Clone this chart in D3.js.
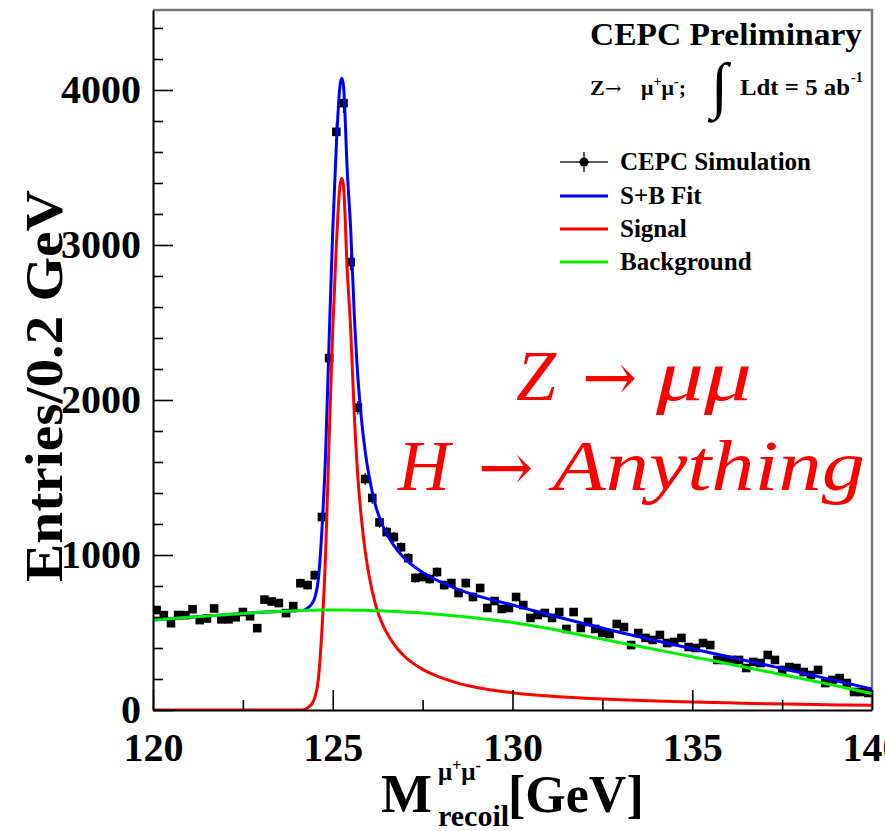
<!DOCTYPE html>
<html><head><meta charset="utf-8">
<script src="https://cdn.jsdelivr.net/npm/d3@7"></script>
<style>body{margin:0;background:#fff}svg{display:block}</style>
</head><body><svg id="c" width="885" height="831"></svg>
<script>
// ---- data ----
const binCenters = [120.1,120.3,120.5,120.7,120.9,121.1,121.3,121.5,121.7,121.9,
  122.1,122.3,122.5,122.7,122.9,123.1,123.3,123.5,123.7,123.9,
  124.1,124.3,124.5,124.7,124.9,125.1,125.3,125.5,125.7,125.9,
  126.1,126.3,126.5,126.7,126.9,127.1,127.3,127.5,127.7,127.9,
  128.1,128.3,128.5,128.7,128.9,129.1,129.3,129.5,129.7,129.9,
  130.1,130.3,130.5,130.7,130.9,131.1,131.3,131.5,131.7,131.9,
  132.1,132.3,132.5,132.7,132.9,133.1,133.3,133.5,133.7,133.9,
  134.1,134.3,134.5,134.7,134.9,135.1,135.3,135.5,135.7,135.9,
  136.1,136.3,136.5,136.7,136.9,137.1,137.3,137.5,137.7,137.9,
  138.1,138.3,138.5,138.7,138.9,139.1,139.3,139.5,139.7,139.9];
const counts = [645,612,560,613,612,650,580,590,655,585,
  585,598,632,605,528,712,700,690,625,670,
  818,806,870,1245,2270,3730,3915,2890,1950,1490,
  1368,1210,1148,1116,1050,980,852,858,845,890,
  806,819,755,819,729,787,658,703,652,658,
  729,677,594,613,626,594,632,523,632,529,
  568,523,497,490,555,535,419,497,465,452,
  484,432,439,465,406,400,432,419,323,323,
  323,323,271,310,303,355,323,258,277,271,
  245,226,258,174,194,206,174,116,116,110];

const curveX = [120,121,122,123,123.5,124,
  124.2,124.3,124.4,124.5,124.6,124.7,124.8,124.9,
  125.0,125.1,125.2,125.25,125.3,125.4,125.5,125.6,125.7,125.8,125.9,
  126.0,126.2,126.4,126.6,126.8,
  127,127.5,128,128.5,129,
  130,131,132,133,134,135,136,137,138,139,140];
const signalFit = [0,0,0,0,0,0,
  2,15,35,80,200,520,1000,1750,
  2450,3000,3380,3430,3380,2850,2450,1900,1500,1230,1030,
  880,670,545,460,395,
  345,262,210,172,145,
  112,90,76,66,58,51,46,41,37,33,30];
const backgroundFit = [580,598,615,630,636,641,
  642,643,644,644,645,645,645,645,
  645,645,645,645,645,645,644,644,644,643,643,
  642,641,639,637,635,
  633,625,616,605,593,
  565,526,480,434,389,344,298,252,205,156,106];
const totalFit = [580,598,615,630,636,641,
  644,658,679,724,845,1165,1645,2395,
  3095,3645,4025,4075,4025,3495,3094,2544,2144,1873,1673,
  1522,1311,1184,1097,1030,
  978,887,826,777,738,
  677,616,556,500,447,395,344,293,242,189,136];

const xMajor = [120,125,130,135,140];
const xMinor = [122.5,127.5,132.5,137.5];
const yMajor = [0,1000,2000,3000,4000];
const yMinor = [200,400,600,800,1200,1400,1600,1800,2200,2400,2600,2800,3200,3400,3600,3800,4200,4400];

const legendItems = [
  {label:"CEPC Simulation", kind:"data"},
  {label:"S+B Fit", kind:"line", color:"#0000ff"},
  {label:"Signal", kind:"line", color:"#ff0000"},
  {label:"Background", kind:"line", color:"#00ee00"}
];

// ---- layout ----
const svg = d3.select("#c");
const L = 153, R = 872, T = 10, B = 710;
const x = d3.scaleLinear().domain([120,140]).range([L,R]);
const y = d3.scaleLinear().domain([0,4516]).range([B,T]);
const serif = "'Liberation Serif','Times New Roman',serif";

svg.append("defs").append("clipPath").attr("id","plot")
  .append("rect").attr("x",L).attr("y",T).attr("width",R-L).attr("height",B-T);

// frame (top/right gray)
svg.append("path").attr("d",`M${L},${T}H${R}V${B}`)
  .attr("fill","none").attr("stroke","#777").attr("stroke-width",2.5);

// data points
const g = svg.append("g").attr("clip-path","url(#plot)");
const pts = g.append("g");
binCenters.forEach((c,i)=>{
  const v = counts[i], e = Math.sqrt(v);
  pts.append("line").attr("x1",x(c)).attr("x2",x(c)).attr("y1",y(v-e)).attr("y2",y(v+e))
    .attr("stroke","#000").attr("stroke-width",1.2);
  pts.append("line").attr("x1",x(c-0.1)).attr("x2",x(c+0.1)).attr("y1",y(v)).attr("y2",y(v))
    .attr("stroke","#000").attr("stroke-width",1.2);
  pts.append("rect").attr("x",x(c)-4.3).attr("y",y(v)-4.3).attr("width",8.6).attr("height",8.6).attr("fill","#000");
});

const lineGen = vals => d3.line().x((d,i)=>x(curveX[i])).y(d=>y(d)).curve(d3.curveMonotoneX)(vals);
g.append("path").attr("d",lineGen(totalFit)).attr("fill","none").attr("stroke","#0000ff").attr("stroke-width",3);
g.append("path").attr("d",lineGen(signalFit)).attr("fill","none").attr("stroke","#ff0000").attr("stroke-width",3);
g.append("path").attr("d",lineGen(backgroundFit)).attr("fill","none").attr("stroke","#00ee00").attr("stroke-width",3);

// axes
svg.append("g").attr("transform",`translate(0,${B})`)
  .call(d3.axisBottom(x).tickValues(xMajor).tickSize(-20).tickSizeOuter(0).tickPadding(23).tickFormat(d3.format("d")));
svg.append("g").attr("transform",`translate(0,${B})`)
  .call(d3.axisBottom(x).tickValues(xMinor).tickSize(-10).tickSizeOuter(0).tickFormat(""))
  .select(".domain").remove();
svg.append("g").attr("transform",`translate(${L},0)`)
  .call(d3.axisLeft(y).tickValues(yMajor).tickSize(-20).tickSizeOuter(0).tickPadding(12).tickFormat(d3.format("d")));
svg.append("g").attr("transform",`translate(${L},0)`)
  .call(d3.axisLeft(y).tickValues(yMinor).tickSize(-10).tickSizeOuter(0).tickFormat(""))
  .select(".domain").remove();
svg.selectAll(".domain").attr("stroke","#000").attr("stroke-width",2);
svg.selectAll(".tick line").attr("stroke","#000").attr("stroke-width",1.6);
svg.selectAll(".tick text").attr("font-family",serif).attr("font-weight","bold").attr("font-size",40).attr("fill","#000");

// axis titles
svg.append("text").attr("transform","translate(62,386) rotate(-90)")
  .attr("text-anchor","middle").attr("font-family",serif).attr("font-weight","bold").attr("font-size",52)
  .attr("textLength",392).attr("lengthAdjust","spacingAndGlyphs")
  .text("Entries/0.2 GeV");
const xt = svg.append("g").attr("font-family",serif).attr("font-weight","bold");
xt.append("text").attr("x",381).attr("y",812).attr("font-size",54).text("M");
const sup = xt.append("text").attr("x",438).attr("y",780).attr("font-size",25);
sup.append("tspan").text("μ");
sup.append("tspan").attr("dy",-9).attr("font-size",16).text("+");
sup.append("tspan").attr("dy",9).text("μ");
sup.append("tspan").attr("dy",-9).attr("font-size",16).text("-");
xt.append("text").attr("x",438).attr("y",826).attr("font-size",30).text("recoil");
xt.append("text").attr("x",508).attr("y",812).attr("font-size",52).text("[GeV]");

// header
const hd = svg.append("g").attr("font-family",serif).attr("font-weight","bold").attr("fill","#000");
hd.append("text").attr("x",590).attr("y",45).attr("font-size",32)
  .attr("textLength",272).attr("lengthAdjust","spacingAndGlyphs").text("CEPC Preliminary");
const zl = hd.append("text").attr("x",590).attr("y",95).attr("font-size",22);
zl.append("tspan").text("Z");
zl.append("tspan").attr("font-family","'DejaVu Serif',serif").attr("font-weight","normal").attr("font-size",20).text("→");
const mu = hd.append("text").attr("x",641).attr("y",95).attr("font-size",22);
mu.append("tspan").text("μ");
mu.append("tspan").attr("dy",-9).attr("font-size",14).text("+");
mu.append("tspan").attr("dy",9).text("μ");
mu.append("tspan").attr("dy",-9).attr("font-size",14).text("-");
mu.append("tspan").attr("dy",9).text(";");
hd.append("text").attr("x",711).attr("y",106).attr("font-size",62).text("∫");
hd.append("text").attr("x",740).attr("y",95).attr("font-size",23)
  .attr("textLength",110).attr("lengthAdjust","spacingAndGlyphs").text("Ldt = 5 ab");
hd.append("text").attr("x",851).attr("y",82).attr("font-size",14).text("-1");

// legend
const lg = svg.append("g");
const rowY = [162,196,229,262];
legendItems.forEach((it,i)=>{
  const yy = rowY[i];
  if (it.kind==="data") {
    lg.append("line").attr("x1",560).attr("x2",608).attr("y1",yy).attr("y2",yy).attr("stroke","#222").attr("stroke-width",1.5);
    lg.append("line").attr("x1",584).attr("x2",584).attr("y1",yy-10).attr("y2",yy+10).attr("stroke","#222").attr("stroke-width",1.5);
    lg.append("circle").attr("cx",584).attr("cy",yy).attr("r",4.5).attr("fill","#000");
  } else {
    lg.append("line").attr("x1",560).attr("x2",608).attr("y1",yy).attr("y2",yy).attr("stroke",it.color).attr("stroke-width",3);
  }
  lg.append("text").attr("x",620).attr("y",yy+8).attr("font-family",serif).attr("font-weight","bold")
    .attr("font-size",25).text(it.label);
});

// annotation (red math text)
const an = svg.append("g").attr("fill","#ff0000");
const ital = t => an.append("text").attr("font-family",serif).attr("font-style","italic").attr("font-size",72).text(t);
const arrow = (ax, ay) => an.append("text").attr("x",ax).attr("y",ay).attr("font-family","'DejaVu Serif',serif")
  .attr("font-size",66).text("→");
ital("Z").attr("x",516).attr("y",400);
arrow(582, 400);
ital("μμ").attr("x",656).attr("y",400).attr("textLength",96).attr("lengthAdjust","spacingAndGlyphs");
ital("H").attr("x",398).attr("y",490);
arrow(478, 490);
ital("Anything").attr("x",553).attr("y",490).attr("textLength",312).attr("lengthAdjust","spacingAndGlyphs");
</script></body></html>
